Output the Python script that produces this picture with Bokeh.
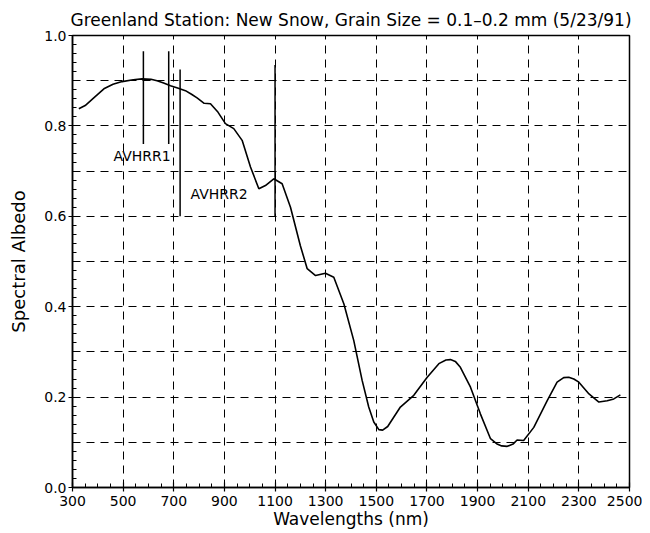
from bokeh.plotting import figure
from bokeh.models import FixedTicker, Range1d, CustomJSTickFormatter
from bokeh.core.properties import value
from bokeh.embed import file_html
from bokeh.resources import INLINE

# Spectral albedo curve
wavelength = [325, 350, 384, 424, 460, 496, 540, 575, 610, 634, 660, 687, 715, 746, 770, 792,
              820, 845, 875, 904, 937, 970, 1003, 1036, 1062, 1095, 1128, 1161, 1200, 1227,
              1260, 1299, 1332, 1372, 1411, 1444, 1470, 1490, 1510, 1525, 1545, 1595, 1648,
              1701, 1747, 1775, 1793, 1812, 1832, 1872, 1911, 1951, 1975, 1995, 2017, 2040,
              2056, 2082, 2122, 2175, 2214, 2240, 2260, 2280, 2300, 2340, 2379, 2412, 2438, 2464]
albedo = [0.838, 0.845, 0.862, 0.882, 0.892, 0.898, 0.902, 0.904, 0.903, 0.900, 0.895, 0.889,
          0.884, 0.878, 0.870, 0.862, 0.850, 0.849, 0.830, 0.805, 0.794, 0.768, 0.709, 0.661,
          0.668, 0.683, 0.672, 0.620, 0.535, 0.484, 0.469, 0.474, 0.465, 0.406, 0.325, 0.237,
          0.178, 0.145, 0.128, 0.127, 0.135, 0.178, 0.204, 0.244, 0.274, 0.282, 0.283, 0.279,
          0.266, 0.222, 0.163, 0.108, 0.097, 0.092, 0.091, 0.096, 0.105, 0.104, 0.133, 0.192,
          0.233, 0.243, 0.244, 0.240, 0.233, 0.207, 0.189, 0.192, 0.196, 0.205]

# AVHRR band edges
band_x = [580, 680, 725, 1100]
band_y0 = [0.76, 0.76, 0.60, 0.60]
band_y1 = [0.965, 0.965, 0.925, 0.935]
band_labels = ["AVHRR1", "AVHRR2"]
label_x = [462, 766]
label_y = [0.734, 0.650]

x_ticks = list(range(300, 2501, 200))
x_minor = list(range(300, 2501, 50))
y_ticks = [0.0, 0.2, 0.4, 0.6, 0.8, 1.0]
y_minor = [round(i * 0.02, 2) for i in range(51)]
y_grid = [round(i * 0.1, 1) for i in range(1, 10)]

FONT = "DejaVu Sans"

p = figure(width=642, height=532, output_backend="svg", toolbar_location=None,
           x_range=Range1d(300, 2500), y_range=Range1d(0, 1.0),
           title="Greenland Station: New Snow, Grain Size = 0.1\u20130.2 mm (5/23/91)")
p.min_border_left = 72
p.min_border_right = 13
p.min_border_top = 35
p.min_border_bottom = 45

p.title.align = "center"
p.title.text_font = FONT
p.title.text_font_style = "normal"
p.title.text_font_size = "17px"
p.title.text_color = "black"
p.title.offset = 0
p.title.standoff = 12

p.outline_line_color = "black"
p.outline_line_width = 1.5
p.outline_line_alpha = 1.0
p.background_fill_color = "white"
p.border_fill_color = "white"

p.xaxis.ticker = FixedTicker(ticks=x_ticks, minor_ticks=x_minor)
p.yaxis.ticker = FixedTicker(ticks=y_ticks, minor_ticks=y_minor)
p.yaxis.formatter = CustomJSTickFormatter(code="return tick.toFixed(1);")

for ax in (p.xaxis, p.yaxis):
    ax.axis_line_color = "black"
    ax.axis_line_width = 1.5
    ax.major_tick_line_color = "black"
    ax.minor_tick_line_color = "black"
    ax.major_tick_line_width = 1.2
    ax.minor_tick_line_width = 1
    ax.major_tick_in = 5
    ax.major_tick_out = 4
    ax.minor_tick_in = 4
    ax.minor_tick_out = 0
    ax.major_label_text_font = FONT
    ax.major_label_text_font_size = "14px"
    ax.major_label_text_color = "black"
    ax.axis_label_text_font = FONT
    ax.axis_label_text_font_style = "normal"
    ax.axis_label_text_color = "black"

p.xaxis.major_label_standoff = 4
p.xaxis.axis_label_standoff = 0
p.xaxis.axis_label_text_font_size = "17px"
p.yaxis.major_label_standoff = 2
p.yaxis.axis_label_standoff = 12
p.yaxis.axis_label_text_font_size = "18px"

p.xaxis.axis_label = "Wavelengths (nm)"
p.yaxis.axis_label = "Spectral Albedo"

p.xgrid.ticker = FixedTicker(ticks=x_ticks[1:-1])
p.ygrid.ticker = FixedTicker(ticks=y_grid)
for g in (p.xgrid, p.ygrid):
    g.grid_line_color = "black"
    g.grid_line_dash = "8 6"
    g.grid_line_width = 1
    g.grid_line_alpha = 1.0

p.segment(x0=band_x, y0=band_y0, x1=band_x, y1=band_y1, line_color="black", line_width=1.5)
p.line(wavelength, albedo, line_color="black", line_width=1.6)
p.text(x=label_x, y=label_y, text=band_labels, text_font=value(FONT),
       text_font_size="14px", text_baseline="middle", text_align="left", text_color="black")

open("out.html", "w").write(file_html(p, INLINE))
